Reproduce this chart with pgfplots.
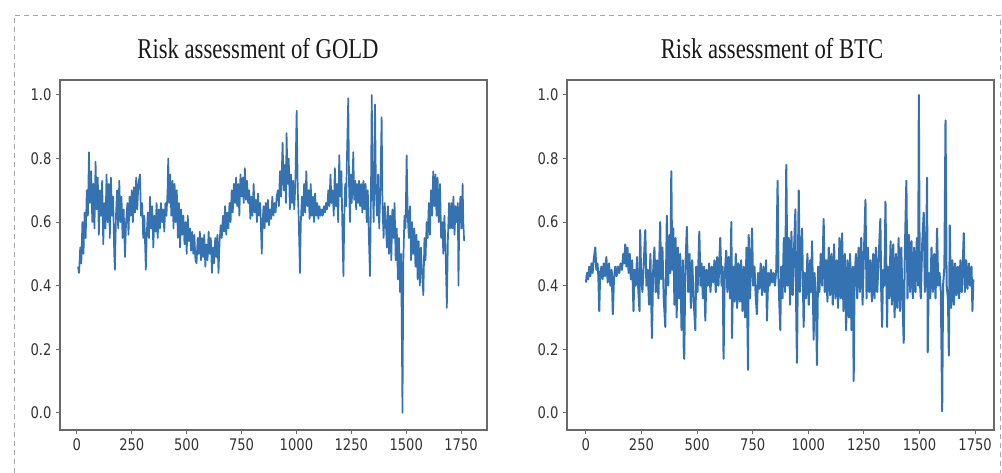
\documentclass[border=0pt]{standalone}
\usepackage{pgfplots}
\pgfplotsset{compat=1.18}
\usepackage{fontspec}
\setmainfont{Liberation Serif}
\newfontfamily\tickfont[FakeStretch=0.82]{DejaVu Sans}
\newfontfamily\titlefont[FakeStretch=0.79]{Liberation Serif}
\definecolor{mplblue}{RGB}{52,114,178}
\definecolor{spine}{RGB}{105,105,105}
\pgfplotsset{
  riskaxis/.style={
    scale only axis, width=427pt, height=350pt, anchor=south west,
    ymin=-0.054, ymax=1.047,
    xtick={0,250,500,750,1000,1250,1500,1750},
    xticklabels={0,250,500,750,1000,1250,1500,1750},
    ytick={0,0.2,0.4,0.6,0.8,1.0},
    yticklabels={0.0,0.2,0.4,0.6,0.8,1.0},
    tick label style={font=\tickfont\fontsize{16}{16}\selectfont, text=black!80},
    tick align=outside, tick pos=left, major tick length=4pt,
    axis line style={spine, line width=1.1pt},
    tick style={spine, line width=1pt},
    xticklabel style={yshift=-1pt},
    yticklabel style={xshift=-1pt},
  }
}
\begin{document}
\begin{tikzpicture}
\useasboundingbox (0pt,0pt) rectangle (1002pt,473pt);
\draw[black!35, line width=0.8pt, dash pattern=on 5pt off 4pt] (14pt,0pt) -- (14pt,458pt) -- (1000pt,458pt) -- (1000pt,0pt);
\node[anchor=base, text=black!90, font=\titlefont\fontsize{28.7}{30}\selectfont] at (258pt,414pt) {Risk assessment of GOLD};
\node[anchor=base, text=black!90, font=\titlefont\fontsize{28.7}{30}\selectfont] at (772pt,414pt) {Risk assessment of BTC};

\begin{axis}[riskaxis, at={(60pt,43pt)}, xmin=-77, xmax=1868]
\addplot[mplblue, line width=1.7pt, mark=none, line join=round] coordinates {
(5,0.46) (10,0.44) (15,0.52) (20,0.47) (25,0.60) (30,0.50) (35,0.63) (40,0.55) (45,0.70) (50,0.62)
(55,0.82) (60,0.66) (65,0.76) (70,0.60) (75,0.72) (80,0.58) (85,0.79) (90,0.64) (95,0.74) (100,0.56)
(105,0.70) (110,0.62) (115,0.73) (120,0.53) (125,0.66) (130,0.58) (135,0.75) (140,0.60) (145,0.72) (150,0.55)
(155,0.74) (160,0.62) (165,0.68) (170,0.50) (173,0.45) (178,0.62) (183,0.70) (188,0.58) (193,0.73) (198,0.60)
(203,0.68) (208,0.55) (213,0.64) (219,0.49) (224,0.60) (230,0.66) (235,0.56) (240,0.68) (245,0.62) (250,0.70)
(255,0.60) (260,0.71) (265,0.63) (270,0.74) (275,0.64) (280,0.72) (287,0.75) (292,0.62) (297,0.66) (302,0.55)
(307,0.62) (314,0.45) (318,0.56) (323,0.63) (328,0.55) (333,0.68) (338,0.58) (343,0.65) (348,0.52) (353,0.62)
(358,0.57) (363,0.66) (368,0.55) (373,0.64) (378,0.58) (383,0.66) (388,0.60) (393,0.64) (398,0.57) (403,0.66)
(408,0.62) (413,0.70) (416,0.80) (420,0.66) (425,0.75) (430,0.62) (435,0.73) (440,0.58) (445,0.72) (450,0.60)
(455,0.70) (460,0.55) (465,0.66) (470,0.52) (475,0.64) (480,0.56) (485,0.62) (490,0.53) (495,0.60) (500,0.50)
(505,0.62) (510,0.54) (515,0.58) (520,0.51) (525,0.57) (530,0.50) (535,0.56) (540,0.48) (545,0.47) (550,0.55)
(555,0.50) (560,0.57) (565,0.48) (570,0.55) (575,0.49) (580,0.56) (585,0.46) (590,0.53) (595,0.48) (600,0.57)
(605,0.50) (610,0.55) (615,0.44) (620,0.52) (625,0.47) (630,0.55) (635,0.49) (640,0.56) (645,0.44) (650,0.54)
(655,0.59) (660,0.55) (665,0.62) (670,0.57) (675,0.65) (680,0.56) (685,0.63) (690,0.58) (695,0.66) (700,0.60)
(705,0.70) (710,0.63) (715,0.72) (720,0.66) (725,0.74) (730,0.65) (735,0.72) (740,0.62) (745,0.75) (750,0.68)
(755,0.74) (760,0.66) (765,0.77) (770,0.67) (775,0.73) (780,0.66) (785,0.70) (790,0.61) (795,0.68) (800,0.62)
(805,0.72) (810,0.63) (815,0.67) (820,0.60) (825,0.69) (830,0.62) (835,0.66) (842,0.50) (846,0.60) (850,0.65)
(855,0.58) (860,0.66) (865,0.60) (870,0.67) (875,0.59) (880,0.64) (885,0.61) (890,0.68) (895,0.62) (900,0.66)
(905,0.63) (910,0.68) (915,0.70) (920,0.65) (925,0.76) (930,0.68) (937,0.85) (942,0.70) (947,0.78) (952,0.66)
(955,0.88) (960,0.72) (965,0.80) (970,0.64) (975,0.75) (980,0.66) (985,0.73) (990,0.64) (995,0.72) (1001,0.95)
(1006,0.70) (1010,0.62) (1016,0.44) (1020,0.60) (1025,0.68) (1030,0.62) (1035,0.72) (1040,0.63) (1045,0.76) (1050,0.65)
(1055,0.70) (1060,0.61) (1065,0.72) (1070,0.62) (1075,0.68) (1080,0.60) (1085,0.69) (1090,0.62) (1095,0.66) (1100,0.61)
(1105,0.65) (1110,0.62) (1115,0.64) (1120,0.62) (1125,0.65) (1130,0.63) (1135,0.66) (1140,0.64) (1145,0.70) (1150,0.65)
(1155,0.75) (1160,0.66) (1165,0.70) (1170,0.62) (1175,0.77) (1180,0.65) (1185,0.72) (1190,0.60) (1195,0.81) (1200,0.68)
(1205,0.76) (1210,0.55) (1214,0.43) (1218,0.62) (1222,0.72) (1226,0.65) (1230,0.80) (1236,0.99) (1240,0.70) (1244,0.60)
(1248,0.75) (1252,0.66) (1259,0.82) (1263,0.67) (1268,0.73) (1272,0.64) (1276,0.72) (1280,0.66) (1285,0.73) (1290,0.65)
(1295,0.72) (1300,0.63) (1305,0.73) (1310,0.64) (1315,0.72) (1320,0.60) (1325,0.70) (1330,0.55) (1335,0.43) (1339,0.65)
(1343,1.0) (1347,0.72) (1352,0.60) (1358,0.97) (1362,0.70) (1367,0.62) (1372,0.75) (1377,0.58) (1382,0.70) (1388,0.93)
(1392,0.65) (1397,0.55) (1402,0.66) (1407,0.60) (1412,0.52) (1417,0.65) (1422,0.50) (1427,0.62) (1432,0.48) (1437,0.64)
(1442,0.55) (1447,0.66) (1452,0.48) (1457,0.58) (1462,0.42) (1467,0.55) (1472,0.38) (1477,0.50) (1483,0.0) (1487,0.48)
(1492,0.62) (1497,0.58) (1502,0.81) (1507,0.62) (1512,0.55) (1517,0.65) (1522,0.48) (1527,0.60) (1532,0.50) (1537,0.58)
(1542,0.46) (1547,0.56) (1552,0.42) (1557,0.54) (1562,0.40) (1567,0.52) (1572,0.44) (1578,0.37) (1583,0.55) (1588,0.48)
(1593,0.60) (1598,0.55) (1603,0.66) (1608,0.56) (1613,0.70) (1618,0.62) (1623,0.76) (1628,0.65) (1633,0.75) (1638,0.62)
(1643,0.74) (1648,0.60) (1654,0.72) (1659,0.55) (1664,0.60) (1669,0.50) (1674,0.62) (1679,0.52) (1685,0.33) (1690,0.55)
(1695,0.66) (1700,0.58) (1705,0.66) (1710,0.58) (1715,0.68) (1720,0.56) (1725,0.65) (1730,0.60) (1735,0.66) (1738,0.40)
(1742,0.62) (1747,0.68) (1752,0.58) (1757,0.72) (1760,0.60) (1764,0.54)
};
\end{axis}

\begin{axis}[riskaxis, at={(567pt,43pt)}, xmin=-85, xmax=1835]
\addplot[mplblue, line width=2pt, mark=none, line join=round] coordinates {
(0,0.41) (5,0.44) (10,0.42) (15,0.46) (20,0.43) (25,0.47) (30,0.44) (35,0.48) (42,0.52) (47,0.45)
(52,0.47) (56,0.43) (60,0.32) (64,0.44) (70,0.46) (75,0.42) (80,0.47) (86,0.43) (92,0.49) (98,0.41)
(104,0.47) (110,0.40) (116,0.45) (121,0.31) (126,0.42) (132,0.46) (138,0.43) (144,0.46) (150,0.44) (156,0.47)
(162,0.45) (168,0.50) (172,0.47) (177,0.53) (182,0.46) (187,0.52) (192,0.44) (197,0.50) (202,0.42) (208,0.48)
(214,0.32) (218,0.45) (224,0.40) (230,0.49) (236,0.38) (241,0.32) (244,0.575) (248,0.44) (254,0.38) (260,0.47)
(267,0.575) (272,0.40) (278,0.45) (284,0.34) (290,0.50) (297,0.235) (302,0.44) (308,0.52) (314,0.38) (320,0.48)
(326,0.36) (334,0.60) (338,0.42) (344,0.52) (350,0.36) (357,0.27) (364,0.62) (370,0.40) (376,0.56) (380,0.44)
(384,0.76) (388,0.45) (393,0.58) (398,0.34) (403,0.55) (408,0.30) (413,0.52) (418,0.36) (424,0.50) (430,0.26)
(436,0.48) (440,0.20) (442,0.17) (447,0.45) (454,0.585) (460,0.38) (466,0.50) (472,0.33) (478,0.48) (484,0.36)
(492,0.26) (496,0.46) (502,0.38) (510,0.57) (515,0.40) (520,0.47) (526,0.36) (531,0.46) (537,0.29) (542,0.45)
(548,0.40) (554,0.47) (560,0.38) (566,0.46) (572,0.41) (578,0.48) (584,0.38) (590,0.49) (596,0.40) (604,0.55)
(610,0.40) (615,0.46) (619,0.17) (624,0.43) (631,0.51) (636,0.38) (642,0.49) (648,0.36) (654,0.60) (657,0.235)
(662,0.46) (668,0.35) (674,0.50) (680,0.33) (686,0.47) (692,0.35) (698,0.48) (704,0.32) (710,0.46) (716,0.30)
(722,0.52) (729,0.135) (732,0.56) (738,0.36) (747,0.58) (752,0.40) (758,0.46) (764,0.36) (769,0.31) (774,0.44)
(780,0.39) (786,0.47) (792,0.37) (798,0.46) (804,0.38) (810,0.48) (814,0.29) (820,0.44) (826,0.40) (832,0.45)
(838,0.41) (844,0.44) (850,0.40) (856,0.45) (862,0.73) (866,0.42) (874,0.26) (878,0.46) (884,0.36) (890,0.55)
(896,0.38) (901,0.78) (906,0.40) (912,0.55) (918,0.34) (924,0.57) (930,0.37) (936,0.52) (942,0.64) (946,0.30)
(949,0.157) (953,0.45) (957,0.70) (962,0.38) (968,0.52) (972,0.58) (979,0.27) (984,0.44) (990,0.36) (996,0.50)
(1002,0.34) (1008,0.48) (1012,0.38) (1017,0.54) (1024,0.23) (1028,0.44) (1034,0.36) (1039,0.15) (1044,0.46) (1050,0.38)
(1056,0.50) (1062,0.40) (1069,0.61) (1074,0.38) (1080,0.48) (1086,0.35) (1092,0.52) (1098,0.37) (1104,0.50) (1110,0.34)
(1116,0.53) (1122,0.36) (1128,0.48) (1134,0.33) (1140,0.55) (1146,0.36) (1152,0.565) (1158,0.32) (1164,0.50) (1170,0.26)
(1176,0.48) (1182,0.30) (1188,0.50) (1194,0.26) (1200,0.46) (1204,0.10) (1208,0.42) (1214,0.50) (1220,0.36) (1226,0.52)
(1232,0.38) (1238,0.55) (1244,0.34) (1250,0.50) (1257,0.67) (1262,0.36) (1268,0.52) (1274,0.38) (1280,0.48) (1286,0.35)
(1292,0.50) (1298,0.36) (1304,0.52) (1310,0.38) (1316,0.48) (1324,0.61) (1328,0.38) (1332,0.27) (1336,0.45) (1342,0.40)
(1347,0.664) (1354,0.27) (1358,0.46) (1364,0.36) (1370,0.54) (1376,0.34) (1382,0.53) (1388,0.30) (1394,0.50) (1400,0.33)
(1406,0.55) (1412,0.32) (1418,0.52) (1424,0.34) (1429,0.22) (1434,0.50) (1441,0.73) (1446,0.36) (1452,0.56) (1458,0.38)
(1464,0.54) (1470,0.36) (1476,0.52) (1482,0.38) (1488,0.55) (1494,0.40) (1497,1.0) (1501,0.42) (1506,0.36) (1512,0.53)
(1519,0.63) (1524,0.38) (1530,0.50) (1534,0.74) (1537,0.19) (1542,0.44) (1548,0.36) (1554,0.52) (1560,0.38) (1566,0.50)
(1572,0.36) (1579,0.58) (1584,0.40) (1590,0.44) (1596,0.38) (1602,0.005) (1606,0.40) (1612,0.46) (1617,0.92) (1622,0.40)
(1628,0.36) (1632,0.18) (1636,0.59) (1642,0.33) (1648,0.48) (1654,0.34) (1660,0.47) (1666,0.37) (1672,0.46) (1678,0.36)
(1684,0.48) (1690,0.38) (1696,0.50) (1699,0.565) (1704,0.38) (1710,0.48) (1716,0.39) (1722,0.47) (1728,0.40) (1734,0.46)
(1738,0.32) (1742,0.42)
};
\end{axis}
\end{tikzpicture}
\end{document}
